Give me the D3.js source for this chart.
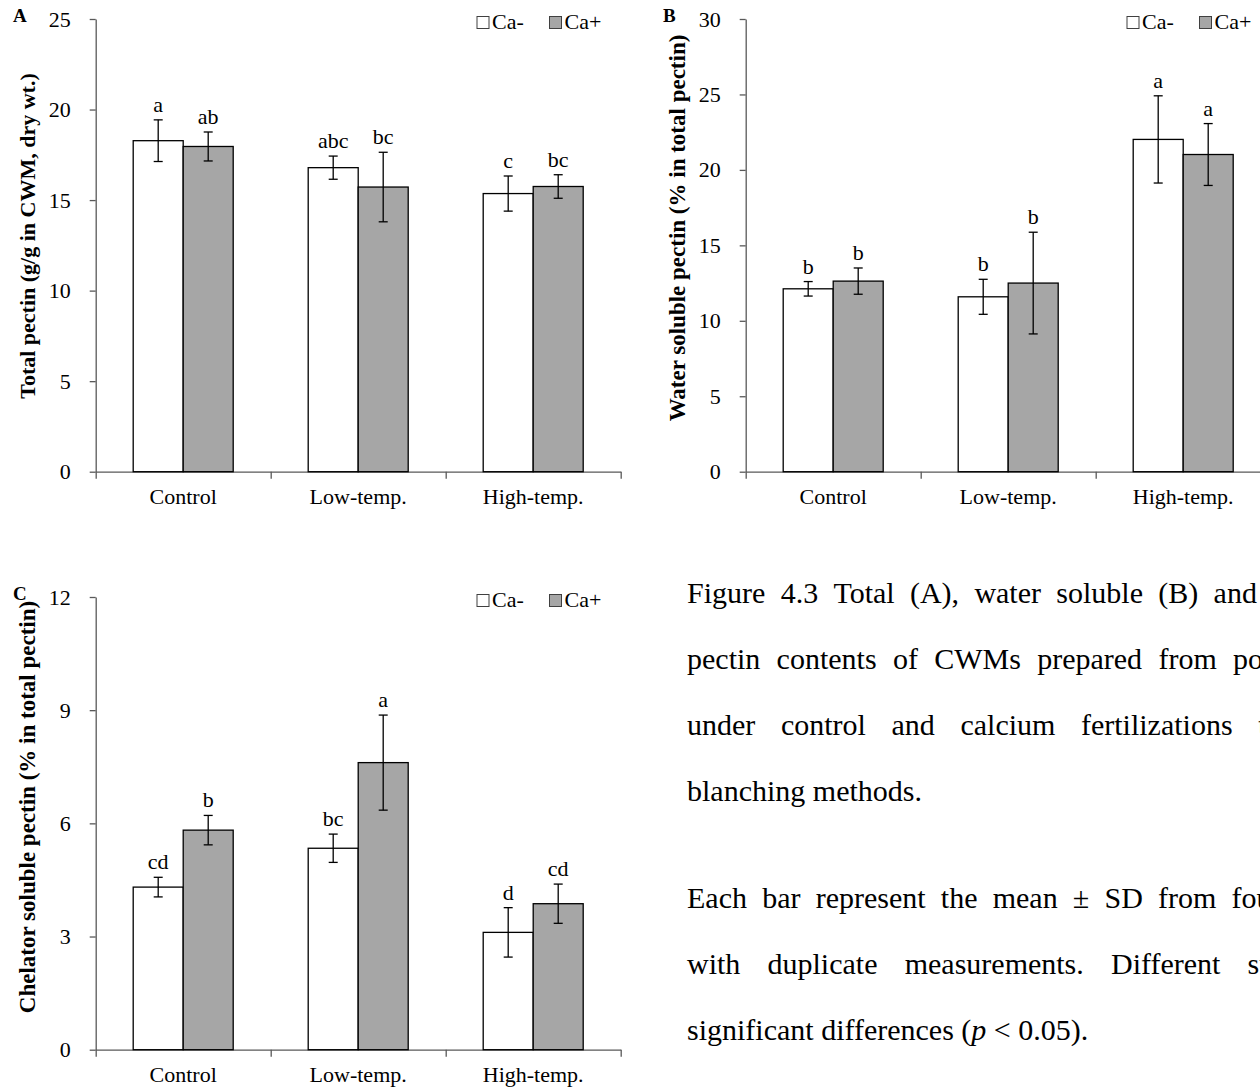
<!DOCTYPE html>
<meta charset="utf-8">
<style>

body {
  margin: 0;
  background: #fff;
  overflow: hidden;
}

svg {
  display: block;
  font-family: "Liberation Serif", "Times New Roman", serif;
}

.axis path, .axis line {
  stroke: #595959;
  stroke-width: 1.3px;
}

.axis text {
  font-family: "Liberation Serif", "Times New Roman", serif;
  font-size: 22px;
  fill: #000;
}

</style>
<body>
<svg id="fig" width="1260" height="1091"></svg>
</body>
<script src="https://cdn.jsdelivr.net/npm/d3@7"></script>
<script>

var categories = ["Control", "Low-temp.", "High-temp."];
var series = ["Ca-", "Ca+"];

// A: total pectin
var totalMinus = [18.28, 16.79, 15.36],
    totalMinusSD = [1.15, 0.64, 0.97],
    totalPlus = [17.96, 15.72, 15.75],
    totalPlusSD = [0.80, 1.92, 0.65],
    totalLetters = [["a", "ab"], ["abc", "bc"], ["c", "bc"]];

// B: water soluble pectin
var waterMinus = [12.12, 11.59, 22.02],
    waterMinusSD = [0.48, 1.16, 2.89],
    waterPlus = [12.63, 12.50, 21.02],
    waterPlusSD = [0.87, 3.37, 2.05],
    waterLetters = [["b", "b"], ["b", "b"], ["a", "a"]];

// C: chelator soluble pectin
var chelMinus = [4.31, 5.34, 3.11],
    chelMinusSD = [0.26, 0.375, 0.655],
    chelPlus = [5.82, 7.61, 3.87],
    chelPlusSD = [0.39, 1.26, 0.52],
    chelLetters = [["cd", "b"], ["bc", "a"], ["d", "cd"]];

var totalTicks = [0, 5, 10, 15, 20, 25],
    waterTicks = [0, 5, 10, 15, 20, 25, 30],
    chelTicks = [0, 3, 6, 9, 12];

// justified caption lines, clipped by the right edge of the page
var captionLines = [
  "Figure 4.3 Total (A), water soluble (B) and chelator",
  "pectin contents of CWMs prepared from potatoes",
  "under control and calcium fertilizations treated",
  "blanching methods.",
  "Each bar represent the mean \u00b1 SD from four",
  "with duplicate measurements. Different superscripts"
];
var captionGaps = [15.3, 16.3, 25.6, 7.5, 15.2, 27.2];

var svg = d3.select("#fig");

var panels = [
  {id: "A", ox: 0, oy: 0, ticks: totalTicks, minus: totalMinus, minusSD: totalMinusSD,
   plus: totalPlus, plusSD: totalPlusSD, letters: totalLetters,
   title: "Total pectin (g/g in CWM, dry wt.)", titleSize: 22, titleY: 236},
  {id: "B", ox: 650, oy: 0, ticks: waterTicks, minus: waterMinus, minusSD: waterMinusSD,
   plus: waterPlus, plusSD: waterPlusSD, letters: waterLetters,
   title: "Water soluble pectin (% in total pectin)", titleSize: 23, titleY: 228},
  {id: "C", ox: 0, oy: 578, ticks: chelTicks, minus: chelMinus, minusSD: chelMinusSD,
   plus: chelPlus, plusSD: chelPlusSD, letters: chelLetters,
   title: "Chelator soluble pectin (% in total pectin)", titleSize: 23, titleY: 229}
];

var x0 = 95.7, plotW = 525, yTop = 19, yBottom = 471.7;

panels.forEach(drawPanel);

function drawPanel(p) {
  var g = svg.append("g")
      .attr("transform", "translate(" + p.ox + "," + p.oy + ")");

  var y = d3.scaleLinear()
      .domain([0, d3.max(p.ticks)])
      .range([yBottom, yTop]);

  var x = d3.scaleBand()
      .domain(categories)
      .range([x0, x0 + plotW]);

  var xs = d3.scaleBand()
      .domain(series)
      .range([0, x.bandwidth()])
      .paddingOuter(0.75);

  var xEdge = d3.scaleLinear()
      .domain([0, categories.length])
      .range([x0, x0 + plotW]);

  g.append("g")
      .attr("class", "axis")
      .attr("transform", "translate(" + x0 + ",0)")
      .call(d3.axisLeft(y).tickValues(p.ticks).tickSize(6).tickSizeOuter(0).tickPadding(19));

  g.append("g")
      .attr("class", "axis")
      .attr("transform", "translate(0," + yBottom + ")")
      .call(d3.axisBottom(xEdge).tickValues(d3.range(categories.length + 1))
        .tickSize(7).tickSizeOuter(0).tickFormat(""));

  g.selectAll(".cat")
      .data(categories)
    .enter().append("text")
      .attr("class", "cat")
      .attr("x", function(d) { return x(d) + x.bandwidth() / 2; })
      .attr("y", yBottom + 32)
      .attr("text-anchor", "middle")
      .style("font-size", "22px")
      .text(function(d) { return d; });

  var rows = [];
  categories.forEach(function(c, i) {
    rows.push({cat: c, s: "Ca-", v: p.minus[i], sd: p.minusSD[i], lab: p.letters[i][0]});
    rows.push({cat: c, s: "Ca+", v: p.plus[i], sd: p.plusSD[i], lab: p.letters[i][1]});
  });

  var bar = g.selectAll(".bar")
      .data(rows)
    .enter().append("g")
      .attr("class", "bar");

  bar.append("rect")
      .attr("x", function(d) { return x(d.cat) + xs(d.s); })
      .attr("width", xs.bandwidth())
      .attr("y", function(d) { return y(d.v); })
      .attr("height", function(d) { return yBottom - y(d.v); })
      .style("fill", function(d) { return d.s == "Ca-" ? "#fff" : "#a6a6a6"; })
      .style("stroke", "#000")
      .style("stroke-width", 1.3);

  function cx(d) { return x(d.cat) + xs(d.s) + xs.bandwidth() / 2; }

  bar.append("line")
      .attr("x1", cx).attr("x2", cx)
      .attr("y1", function(d) { return y(d.v - d.sd); })
      .attr("y2", function(d) { return y(d.v + d.sd); })
      .style("stroke", "#000").style("stroke-width", 1.3);

  [-1, 1].forEach(function(k) {
    bar.append("line")
        .attr("x1", function(d) { return cx(d) - 4.5; })
        .attr("x2", function(d) { return cx(d) + 4.5; })
        .attr("y1", function(d) { return y(d.v + k * d.sd); })
        .attr("y2", function(d) { return y(d.v + k * d.sd); })
        .style("stroke", "#000").style("stroke-width", 1.3);
  });

  bar.append("text")
      .attr("x", cx)
      .attr("y", function(d) { return y(d.v + d.sd) - 8; })
      .attr("text-anchor", "middle")
      .style("font-size", "22px")
      .text(function(d) { return d.lab; });

  // legend
  var leg = g.selectAll(".leg")
      .data(series)
    .enter().append("g")
      .attr("class", "leg")
      .attr("transform", function(d, i) { return "translate(" + (477 + i * 72.5) + ",0)"; });

  leg.append("rect")
      .attr("x", 0).attr("y", 16.5)
      .attr("width", 12).attr("height", 12)
      .style("fill", function(d) { return d == "Ca-" ? "#fff" : "#a6a6a6"; })
      .style("stroke", "#404040").style("stroke-width", 1);

  leg.append("text")
      .attr("x", 15).attr("y", 29)
      .style("font-size", "22px")
      .text(function(d) { return d; });

  g.append("text")
      .attr("x", 13).attr("y", 22)
      .style("font-size", "19px").style("font-weight", "bold")
      .text(p.id);

  g.append("text")
      .attr("transform", "translate(35," + p.titleY + ") rotate(-90)")
      .attr("text-anchor", "middle")
      .style("font-size", p.titleSize + "px").style("font-weight", "bold")
      .text(p.title);
}

// caption
var cap = svg.append("g").style("font-size", "30px");
var capX = 687, capTop = 603, capStep = 66, paraGap = 41;

captionLines.forEach(function(line, i) {
  var yy = capTop + i * capStep + (i >= 4 ? paraGap : 0);
  var xx = capX;
  line.split(" ").forEach(function(w) {
    var t = cap.append("text").attr("x", xx).attr("y", yy).text(w);
    xx += t.node().getComputedTextLength() + captionGaps[i];
  });
});

var last = cap.append("text")
    .attr("x", capX)
    .attr("y", capTop + 6 * capStep + paraGap);
last.append("tspan").text("significant differences (");
last.append("tspan").style("font-style", "italic").text("p");
last.append("tspan").text(" < 0.05).");

</script>
